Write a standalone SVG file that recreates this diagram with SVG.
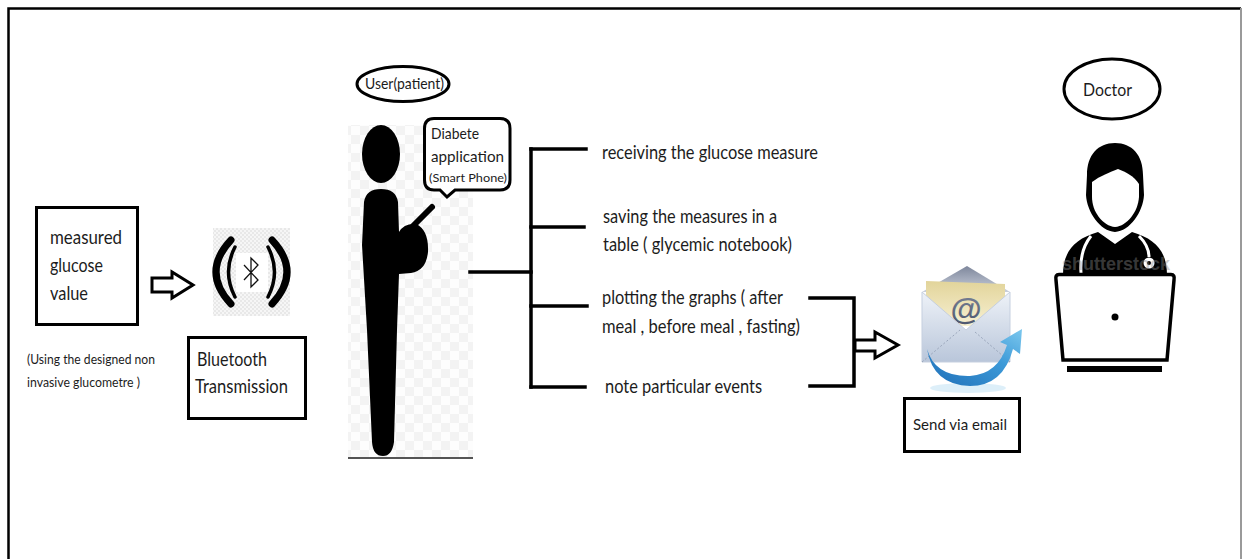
<svg xmlns="http://www.w3.org/2000/svg" width="1242" height="559" viewBox="0 0 1242 559">
  <defs>
    <style>
      .t { font-family: Lato, "Liberation Sans", sans-serif; fill: #1c1c1c; }
      .m { font-size: 19px; }
      .s { font-size: 13px; }
      .box { fill: #fff; stroke: #000; stroke-width: 3; }
      .ln { fill: none; stroke: #000; stroke-width: 3.5; stroke-linecap: square; }
      .hollow { fill: #fff; stroke: #000; stroke-width: 3; stroke-linejoin: miter; }
    </style>
    <pattern id="checker" width="18" height="18" patternUnits="userSpaceOnUse">
      <rect width="18" height="18" fill="#fdfdfd"/>
      <rect width="9" height="9" fill="#f3f3f3"/>
      <rect x="9" y="9" width="9" height="9" fill="#f3f3f3"/>
    </pattern>
    <pattern id="fine" width="4" height="4" patternUnits="userSpaceOnUse">
      <rect width="4" height="4" fill="#f6f6f6"/>
      <rect width="2" height="2" fill="#e8e8e8"/>
      <rect x="2" y="2" width="2" height="2" fill="#e8e8e8"/>
    </pattern>
    <linearGradient id="flap" x1="0" y1="0" x2="0" y2="1">
      <stop offset="0" stop-color="#7e879c"/>
      <stop offset="1" stop-color="#c9cfdb"/>
    </linearGradient>
    <linearGradient id="paper" x1="0" y1="0" x2="0" y2="1">
      <stop offset="0" stop-color="#e2d49a"/>
      <stop offset="1" stop-color="#f7f0d2"/>
    </linearGradient>
    <linearGradient id="env" x1="0" y1="0" x2="0" y2="1">
      <stop offset="0" stop-color="#eef2f8"/>
      <stop offset="1" stop-color="#b9c6da"/>
    </linearGradient>
    <linearGradient id="arrowBlue" x1="0" y1="1" x2="1" y2="0">
      <stop offset="0" stop-color="#1f6fb8"/>
      <stop offset="0.6" stop-color="#3d9ad8"/>
      <stop offset="1" stop-color="#7cc8ee"/>
    </linearGradient>
    <linearGradient id="at" x1="0" y1="0" x2="0" y2="1">
      <stop offset="0" stop-color="#7c8499"/>
      <stop offset="1" stop-color="#4b556c"/>
    </linearGradient>
  </defs>

  <!-- page frame -->
  <g id="frame">
    <rect x="0" y="0" width="1242" height="559" fill="#fff"/>
    <path d="M8.5,600 V8.5 H1241" fill="none" stroke="#000" stroke-width="2.5"/>
    <line x1="1241" y1="8" x2="1241" y2="559" stroke="#9a9a9a" stroke-width="2"/>
  </g>

  <!-- glucose value source -->
  <g id="measured">
    <rect class="box" x="36.5" y="207.5" width="101" height="117"/>
    <text class="t m" x="50" y="244" textLength="72" lengthAdjust="spacingAndGlyphs">measured</text>
    <text class="t m" x="50" y="272" textLength="53" lengthAdjust="spacingAndGlyphs">glucose</text>
    <text class="t m" x="50" y="300" textLength="38" lengthAdjust="spacingAndGlyphs">value</text>
  </g>
  <g id="measured-note">
    <text class="t s" x="27" y="364" textLength="128" lengthAdjust="spacingAndGlyphs">(Using the designed non</text>
    <text class="t s" x="27" y="387" textLength="113" lengthAdjust="spacingAndGlyphs">invasive glucometre )</text>
  </g>

  <!-- bluetooth link -->
  <g id="bluetooth-icon">
    <rect x="213" y="228" width="77" height="88" fill="url(#fine)"/>
    <path d="M231,240 Q201,272 231,304" fill="none" stroke="#000" stroke-width="7" stroke-linecap="round"/>
    <path d="M235,247 Q222,272 235,297" fill="none" stroke="#000" stroke-width="3.5" stroke-linecap="round"/>
    <path d="M272,240 Q302,272 272,304" fill="none" stroke="#000" stroke-width="7" stroke-linecap="round"/>
    <path d="M268,247 Q281,272 268,297" fill="none" stroke="#000" stroke-width="3.5" stroke-linecap="round"/>
    <rect x="236" y="253" width="32" height="39" fill="#fff"/>
    <path d="M244,265 L258,280 L251,287 L251,258 L258,265 L244,280" fill="none" stroke="#111" stroke-width="1.3"/>
  </g>
  <g id="bluetooth">
    <rect class="box" x="188.5" y="337.5" width="117" height="81"/>
    <text class="t m" x="197" y="366" textLength="70" lengthAdjust="spacingAndGlyphs">Bluetooth</text>
    <text class="t m" x="195" y="393" textLength="93" lengthAdjust="spacingAndGlyphs">Transmission</text>
  </g>

  <!-- patient with phone -->
  <g id="user-label">
    <ellipse cx="403" cy="84" rx="46" ry="17.5" fill="#fff" stroke="#000" stroke-width="3"/>
    <text class="t" x="365" y="89" font-size="15" textLength="79" lengthAdjust="spacingAndGlyphs">User(patient)</text>
  </g>
  <g id="patient">
    <rect x="348" y="125" width="125" height="333" fill="url(#checker)"/>
    <line x1="348" y1="458" x2="473" y2="458" stroke="#555" stroke-width="2"/>
    <ellipse cx="381" cy="154" rx="19" ry="29" fill="#000"/>
    <path d="M364,202 Q366,189 381,189 Q396,189 398,202 L399,232 Q404,223 416,224 Q429,230 428,252 Q426,271 411,273 L399,274 L397,330 L394,442 Q392,456 383,456 Q373,456 372,442 L367,330 L362,245 Z" fill="#000"/>
    <line x1="413" y1="226" x2="432" y2="207" stroke="#000" stroke-width="6" stroke-linecap="round"/>
  </g>
  <g id="app-callout">
    <path d="M434,118.5 H500 Q510,118.5 510,128.5 V180 Q510,190 500,190 H455 L447,197 L440,190 H434 Q424.5,190 424.5,180 V128.5 Q424.5,118.5 434,118.5 Z" fill="#fff" stroke="#000" stroke-width="3"/>
    <text class="t" x="431" y="139" font-size="15" textLength="48" lengthAdjust="spacingAndGlyphs">Diabete</text>
    <text class="t" x="431" y="162" font-size="15" textLength="73" lengthAdjust="spacingAndGlyphs">application</text>
    <text class="t" x="429" y="182" font-size="11" textLength="78" lengthAdjust="spacingAndGlyphs">(Smart Phone)</text>
  </g>

  <!-- application functions -->
  <g id="connectors">
    <line class="ln" x1="470" y1="272" x2="531" y2="272"/>
    <line class="ln" x1="531" y1="149" x2="531" y2="387"/>
    <line class="ln" x1="531" y1="149" x2="586" y2="149"/>
    <line class="ln" x1="531" y1="227" x2="584" y2="227"/>
    <line class="ln" x1="531" y1="306" x2="587" y2="306"/>
    <line class="ln" x1="531" y1="387" x2="585" y2="387"/>
    <path class="ln" d="M810,298 H854 V386 H810"/>
    <polygon class="hollow" points="152,278 172,278 172,272 193,285 172,298 172,292 152,292"/>
    <polygon class="hollow" points="855,340 875,340 875,332 898,345 875,358 875,351 855,351"/>
  </g>
  <g id="functions">
    <text class="t m" x="602" y="159" textLength="216" lengthAdjust="spacingAndGlyphs">receiving the glucose measure</text>
    <text class="t m" x="603" y="223" textLength="174" lengthAdjust="spacingAndGlyphs">saving the measures in a</text>
    <text class="t m" x="603" y="251" textLength="189" lengthAdjust="spacingAndGlyphs">table ( glycemic notebook)</text>
    <text class="t m" x="602" y="304" textLength="181" lengthAdjust="spacingAndGlyphs">plotting the graphs ( after</text>
    <text class="t m" x="602" y="333" textLength="198" lengthAdjust="spacingAndGlyphs">meal , before meal , fasting)</text>
    <text class="t m" x="605" y="393" textLength="157" lengthAdjust="spacingAndGlyphs">note particular events</text>
  </g>

  <!-- e-mail -->
  <g id="email-icon">
    <ellipse cx="968" cy="388" rx="38" ry="5" fill="#9fd2ee" opacity="0.35"/>
    <path d="M922,292 L967,266 L1010,292 Z" fill="url(#flap)"/>
    <path d="M926,281 L1005,284 L1005,326 L926,326 Z" fill="url(#paper)"/>
    <text x="966" y="320" font-family="Liberation Sans, sans-serif" font-weight="bold" font-size="32" text-anchor="middle" fill="url(#at)">@</text>
    <path d="M922,292 L966,330 L1010,292 L1010,362 L922,362 Z" fill="url(#env)" stroke="#c5cfdf" stroke-width="1"/>
    <path d="M922,362 L960,330 M1010,362 L975,332" stroke="#9aa6bb" stroke-width="1" stroke-dasharray="2 2" fill="none"/>
    <path d="M927,349 Q935,377 970,376 Q998,374 1007,345 L1000,342 L1022,329 L1020,354 L1013,349 Q1003,386 970,386 Q933,385 927,349 Z" fill="url(#arrowBlue)"/>
  </g>
  <g id="send-email">
    <rect class="box" x="904.5" y="398.5" width="115" height="53"/>
    <text class="t" x="913" y="430" font-size="15" textLength="94" lengthAdjust="spacingAndGlyphs">Send via email</text>
  </g>

  <!-- doctor -->
  <g id="doctor-label">
    <ellipse cx="1112" cy="89" rx="48" ry="30" fill="#fff" stroke="#000" stroke-width="3"/>
    <text class="t" x="1083" y="96" font-size="17" textLength="49" lengthAdjust="spacingAndGlyphs">Doctor</text>
  </g>
  <g id="doctor">
    <path d="M1115,143 C1098,143 1087,155 1087,175 L1086,195 C1087,212 1100,231 1115,232 C1130,231 1143,212 1144,195 L1143,175 C1143,155 1132,143 1115,143 Z" fill="#000"/>
    <path d="M1092,182 C1100,176 1110,172 1118,169 C1126,172 1134,176 1139,184 L1139,197 C1138,212 1127,226 1115,227 C1103,226 1092,212 1092,197 Z" fill="#fff"/>
    <path d="M1063,275 C1063,252 1074,239 1098,232 L1115,244 L1132,232 C1156,239 1167,252 1167,275 Z" fill="#000"/>
    <path d="M1091,236 C1083,246 1080,259 1081,273" fill="none" stroke="#fff" stroke-width="3"/>
    <path d="M1139,236 C1146,243 1149,250 1149,257" fill="none" stroke="#fff" stroke-width="3"/>
    <circle cx="1149" cy="263" r="5.5" fill="#fff"/>
    <circle cx="1149" cy="263" r="2" fill="#000"/>
    <text x="1062" y="270" font-family="Liberation Sans, sans-serif" font-weight="bold" font-size="19" fill="#8a8a8a" opacity="0.4" textLength="108" lengthAdjust="spacingAndGlyphs">shutterstock</text>
    <path d="M1059,274.5 H1171 Q1175,274.5 1174,280 L1167,360 H1063 L1056,280 Q1055,274.5 1059,274.5 Z" fill="#fff" stroke="#000" stroke-width="3.5"/>
    <circle cx="1115" cy="317" r="3.5" fill="#000"/>
    <rect x="1067" y="366" width="95" height="6" fill="#000"/>
  </g>
</svg>
